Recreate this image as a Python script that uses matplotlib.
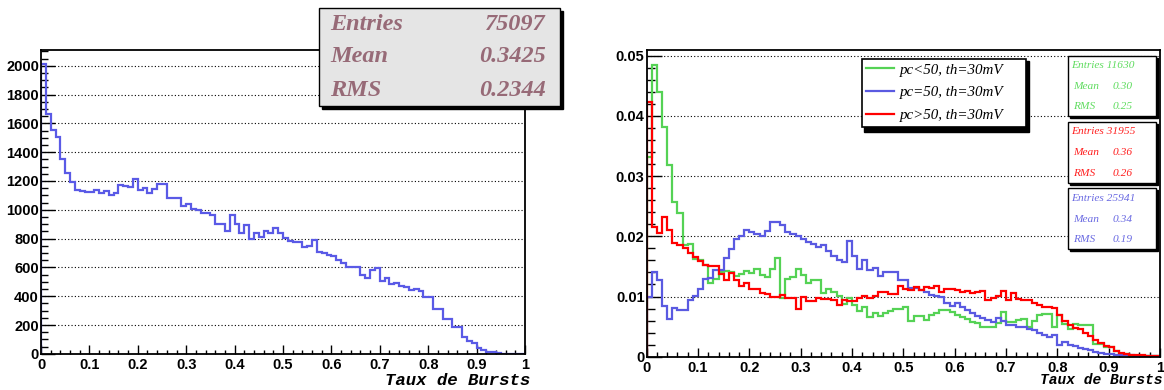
import numpy as np
import matplotlib
matplotlib.use('Agg')
import matplotlib.pyplot as plt
from matplotlib.patches import Rectangle
from matplotlib.lines import Line2D
from matplotlib.ticker import MultipleLocator, FuncFormatter

W, H = 1164, 390

# ---------------- data ----------------
bin_edges = np.linspace(0.0, 1.0, 101)

all_counts = [
    2012, 1663, 1554, 1507, 1355, 1258, 1193, 1137, 1128, 1123,
    1123, 1140, 1114, 1130, 1100, 1116, 1172, 1165, 1158, 1216,
    1137, 1149, 1114, 1142, 1179, 1177, 1080, 1085, 1085, 1025,
    1042, 1007, 1002, 981, 977, 967, 902, 902, 851, 965,
    902, 837, 893, 798, 837, 814, 856, 842, 872, 837,
    805, 782, 775, 775, 745, 752, 791, 710, 703, 689,
    680, 654, 629, 603, 603, 603, 548, 524, 582, 596,
    508, 527, 485, 489, 471, 462, 445, 450, 434, 392,
    392, 309, 309, 244, 244, 188, 188, 118, 90, 74,
    44, 26, 12, 12, 3, 2, 2, 1, 1, 1,
]

green_pct = [
    3.32, 4.84, 4.40, 3.81, 3.19, 2.57, 2.38, 1.86, 1.88, 1.63,
    1.60, 1.53, 1.23, 1.29, 1.40, 1.42, 1.41, 1.34, 1.37, 1.42,
    1.39, 1.46, 1.36, 1.33, 1.46, 1.64, 0.97, 1.29, 1.32, 1.46,
    1.36, 1.22, 1.28, 1.28, 1.06, 1.13, 1.08, 1.01, 0.88, 0.97,
    0.86, 0.76, 0.83, 0.66, 0.72, 0.67, 0.73, 0.76, 0.79, 0.79,
    0.82, 0.60, 0.67, 0.67, 0.61, 0.69, 0.72, 0.77, 0.77, 0.75,
    0.69, 0.66, 0.62, 0.58, 0.56, 0.50, 0.50, 0.50, 0.56, 0.74,
    0.58, 0.58, 0.61, 0.62, 0.49, 0.59, 0.69, 0.71, 0.71, 0.50,
    0.69, 0.54, 0.46, 0.54, 0.53, 0.53, 0.53, 0.21, 0.21, 0.16,
    0.16, 0.10, 0.04, 0.04, 0.01, 0.01, 0.01, 0.005, 0.005, 0.005,
]

blue_pct = [
    1.00, 1.40, 1.27, 0.85, 0.62, 0.81, 0.78, 0.77, 0.94, 1.01,
    1.12, 1.29, 1.31, 1.44, 1.44, 1.64, 1.79, 1.96, 2.00, 2.11,
    2.07, 2.04, 2.01, 2.08, 2.24, 2.24, 2.18, 2.07, 2.04, 2.01,
    1.96, 1.90, 1.88, 1.82, 1.86, 1.75, 1.67, 1.61, 1.58, 1.92,
    1.67, 1.46, 1.61, 1.44, 1.47, 1.34, 1.40, 1.40, 1.40, 1.28,
    1.28, 1.14, 1.14, 1.11, 1.08, 1.03, 1.01, 0.99, 0.89, 0.85,
    0.90, 0.83, 0.78, 0.72, 0.68, 0.64, 0.61, 0.58, 0.64, 0.60,
    0.53, 0.53, 0.50, 0.49, 0.46, 0.44, 0.40, 0.36, 0.33, 0.36,
    0.19, 0.24, 0.20, 0.17, 0.14, 0.12, 0.11, 0.08, 0.06, 0.05,
    0.04, 0.03, 0.02, 0.02, 0.02, 0.01, 0.01, 0.01, 0.01, 0.01,
]

red_pct = [
    4.23, 2.16, 2.06, 2.32, 2.11, 1.89, 1.85, 1.80, 1.73, 1.65,
    1.59, 1.53, 1.50, 1.50, 1.37, 1.27, 1.39, 1.28, 1.17, 1.23,
    1.13, 1.12, 1.05, 1.04, 1.00, 0.99, 1.03, 0.97, 0.97, 0.79,
    0.99, 0.93, 0.93, 0.97, 0.96, 0.96, 0.94, 0.86, 0.94, 0.92,
    0.92, 0.97, 1.01, 0.97, 1.01, 1.07, 1.07, 1.04, 1.04, 1.18,
    1.13, 1.11, 1.16, 1.11, 1.16, 1.14, 1.18, 1.08, 1.13, 1.12,
    1.11, 1.08, 1.09, 1.06, 1.07, 1.09, 0.94, 0.97, 1.01, 1.09,
    0.94, 1.06, 0.96, 0.94, 0.94, 0.89, 0.86, 0.83, 0.83, 0.81,
    0.69, 0.59, 0.53, 0.47, 0.46, 0.39, 0.34, 0.28, 0.22, 0.18,
    0.16, 0.10, 0.06, 0.04, 0.03, 0.03, 0.03, 0.01, 0.01, 0.01,
]

series_labels = ["pc<50, th=30mV", "pc=50, th=30mV", "pc>50, th=30mV"]
series_colors = ["#55d255", "#5a5ae1", "#ff0000"]

left_stats = [("Entries", "75097"), ("Mean", "0.3425"), ("RMS", "0.2344")]
right_stats = [
    ("Entries 11630", "0.30", "0.25"),
    ("Entries 31955", "0.36", "0.26"),
    ("Entries 25941", "0.34", "0.19"),
]
right_stats_colors = ["#5fdc5f", "#ff1e1e", "#6a6ae2"]
xlabel_text = "Taux de Bursts"

# ---------------- helpers ----------------
def fx(px):
    return px / W


def fy(py):
    return 1 - py / H


fig = plt.figure(figsize=(W / 100, H / 100), dpi=100)
fig.patch.set_facecolor('white')

ax1 = fig.add_axes([fx(41), fy(353.9), (525 - 41) / W, (353.9 - 50) / H])
ax2 = fig.add_axes([fx(646.7), fy(356.7), (1160 - 646.7) / W, (356.7 - 50) / H])

fmt = FuncFormatter(lambda v, p: '%g' % round(v, 6))


def style(ax, xmaj, xmin, ymaj, ymin, xl_maj, xl_min, yl_maj, yl_min):
    ax.set_facecolor('white')
    ax.xaxis.set_major_locator(MultipleLocator(xmaj))
    ax.xaxis.set_minor_locator(MultipleLocator(xmin))
    ax.yaxis.set_major_locator(MultipleLocator(ymaj))
    ax.yaxis.set_minor_locator(MultipleLocator(ymin))
    ax.xaxis.set_major_formatter(fmt)
    ax.yaxis.set_major_formatter(fmt)
    ax.tick_params(which='both', direction='in', top=False, right=False,
                   color='black', width=1.0)
    ax.tick_params(axis='x', which='major', length=xl_maj, pad=3)
    ax.tick_params(axis='x', which='minor', length=xl_min)
    ax.tick_params(axis='y', which='major', length=yl_maj, pad=1.5)
    ax.tick_params(axis='y', which='minor', length=yl_min)
    for lab in ax.get_xticklabels() + ax.get_yticklabels():
        lab.set_fontfamily('Liberation Sans')
        lab.set_fontweight('bold')
        lab.set_fontsize(10.5)
    for s in ax.spines.values():
        s.set_linewidth(1.3)
        s.set_color('black')
    ax.set_axisbelow(True)
    ax.grid(axis='y', which='major', linestyle=(0, (1, 2)), color='black',
            linewidth=0.8)


# ---------------- left panel ----------------
ax1.stairs(all_counts, bin_edges, color="#5a5ae6", linewidth=1.6, baseline=0)
ax1.set_xlim(0, 1)
ax1.set_ylim(0, 2109)
style(ax1, 0.1, 0.02, 200, 50, 6.5, 3.2, 10, 5)

# ---------------- right panel ----------------
for vals, col, lab in zip([green_pct, blue_pct, red_pct], series_colors, series_labels):
    ax2.stairs(np.array(vals) * 0.01, bin_edges, color=col, linewidth=1.6,
               baseline=0, label=lab)
ax2.set_xlim(0, 1)
ax2.set_ylim(0, 0.05095)
style(ax2, 0.1, 0.02, 0.01, 0.002, 6.6, 3.3, 11, 5.5)

# legend
handles = [Line2D([], [], color=c, lw=1.6) for c in series_colors]
lx0, ly0, lx1, ly1 = 861.7, 58.7, 1026, 129.3
ax2.add_patch(Rectangle((fx(lx0 + 2.5), fy(ly1 + 2.5)), (lx1 - lx0) / W, (ly1 - ly0) / H,
                        transform=fig.transFigure, facecolor='black',
                        edgecolor='black', zorder=4.9, clip_on=False))
leg = ax2.legend(handles, series_labels, loc='upper left',
                 bbox_to_anchor=(fx(lx0), fy(ly1), (lx1 - lx0) / W, (ly1 - ly0) / H),
                 bbox_transform=fig.transFigure, mode='expand', borderaxespad=0,
                 fancybox=False, shadow=False, framealpha=1, edgecolor='black',
                 handlelength=1.85, handletextpad=0.4, borderpad=0.3,
                 labelspacing=0.62,
                 prop={'family': 'Liberation Serif', 'style': 'italic', 'size': 10.8})
leg.get_frame().set_linewidth(1.2)
leg.set_zorder(5)

# ---------------- left stats box ----------------
bx0, by0, bx1, by1 = 319.3, 8, 560, 106
fig.add_artist(Rectangle((fx(bx0 + 2.5), fy(by1 + 2.5)), (bx1 - bx0) / W, (by1 - by0) / H,
                         transform=fig.transFigure, facecolor='black',
                         edgecolor='black', zorder=3))
fig.add_artist(Rectangle((fx(bx0), fy(by1)), (bx1 - bx0) / W, (by1 - by0) / H,
                         transform=fig.transFigure, facecolor='#e5e5e5',
                         edgecolor='black', linewidth=1.0, zorder=4))
stat_color = '#976a77'
for (name, val), yc in zip(left_stats, [24, 57, 90]):
    fig.text(fx(330), fy(yc), name, ha='left', va='center', color=stat_color,
             family='Liberation Serif', style='italic', weight='bold', size=17.5,
             zorder=5)
    fig.text(fx(546), fy(yc), val, ha='right', va='center', color=stat_color,
             family='Liberation Serif', style='italic', weight='bold', size=17.5,
             zorder=5)

# ---------------- right stats boxes ----------------
box_tops = [55.7, 122, 188.3]
box_h = 60.5
sx0, sx1 = 1067.5, 1155.5
for (entries, mean, rms), col, top in zip(right_stats, right_stats_colors, box_tops):
    fig.add_artist(Rectangle((fx(sx0 + 2), fy(top + box_h + 2)), (sx1 - sx0) / W, box_h / H,
                             transform=fig.transFigure, facecolor='black',
                             edgecolor='black', zorder=3))
    fig.add_artist(Rectangle((fx(sx0), fy(top + box_h)), (sx1 - sx0) / W, box_h / H,
                             transform=fig.transFigure, facecolor='white',
                             edgecolor='black', linewidth=1.0, zorder=4))
    kw = dict(va='center', color=col, family='Liberation Serif', style='italic',
              size=8.2, zorder=5)
    fig.text(fx(1071), fy(top + 10), entries, ha='left', **kw)
    fig.text(fx(1072.7), fy(top + 31), "Mean", ha='left', **kw)
    fig.text(fx(1112.7), fy(top + 31), mean, ha='left', **kw)
    fig.text(fx(1072.7), fy(top + 51), "RMS", ha='left', **kw)
    fig.text(fx(1112.7), fy(top + 51), rms, ha='left', **kw)

# ---------------- axis titles ----------------
fig.text(fx(530), fy(380.5), xlabel_text, ha='right', va='center',
         family='Liberation Mono', weight='bold', style='italic', size=12.5)
fig.text(fx(1162), fy(380.5), xlabel_text, ha='right', va='center',
         family='Liberation Mono', weight='bold', style='italic', size=10.5)

fig.savefig('out.png', dpi=100, facecolor='white')
